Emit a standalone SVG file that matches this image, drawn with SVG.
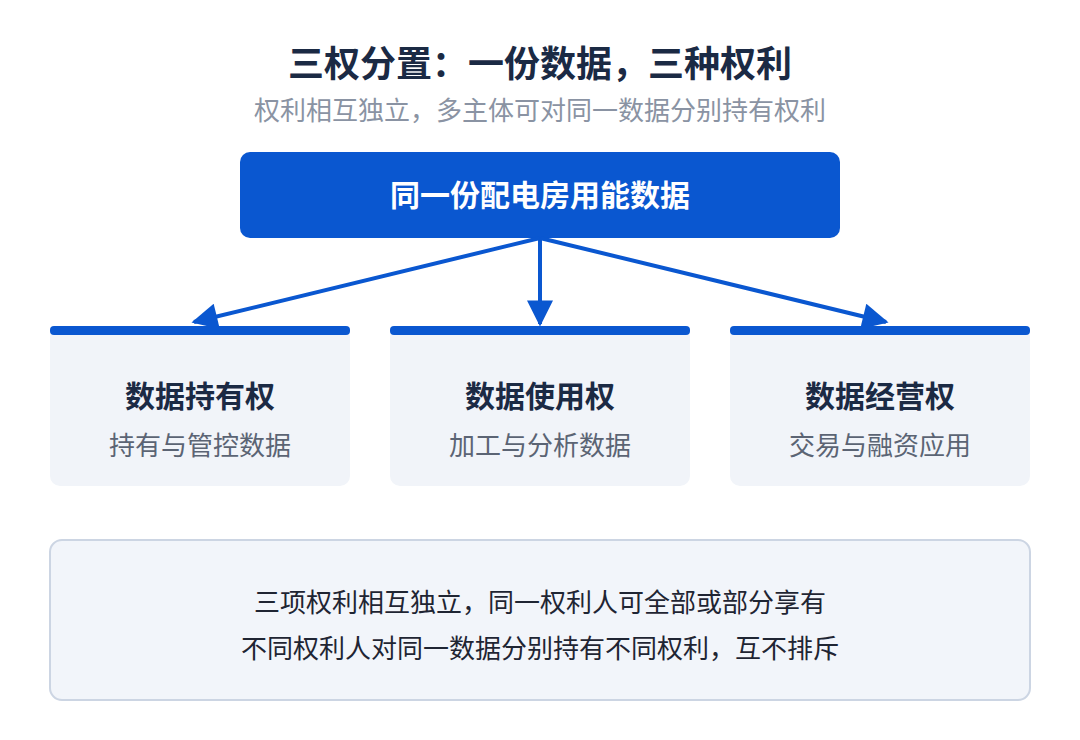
<svg xmlns="http://www.w3.org/2000/svg" width="1080" height="740" viewBox="0 0 1080 740">
<style>
text{font-family:"Noto Sans CJK SC","Noto Sans",sans-serif;text-anchor:middle}
.t{font-size:36px;font-weight:700;fill:#1b2a44}
.s{font-size:26px;fill:#8a93a3}
.h{font-size:30px;font-weight:700;fill:#1b2a44}
.d{font-size:26px;fill:#5b6474}
.b{font-size:26px;fill:#1f2533}
.card{fill:#f1f4f9}
.bar{fill:#0a57d0}
.c{stroke:#0a57d0;stroke-width:4;fill:none}
</style>
<defs><marker id="a" viewBox="0 0 10 10" refX="9" refY="5" markerWidth="7.5" markerHeight="6.5" markerUnits="strokeWidth" orient="auto"><path d="M0,0L10,5L0,10z" fill="#0a57d0"/></marker></defs>
<rect width="1080" height="740" fill="#fff"/>
<text class="t" x="540" y="77">三权分置：一份数据，三种权利</text>
<text class="s" x="540" y="120">权利相互独立，多主体可对同一数据分别持有权利</text>
<g id="root"><rect x="240" y="152" width="600" height="86" rx="10" fill="#0a57d0"/><text x="540" y="206" style="font-size:30px;font-weight:700;fill:#fff">同一份配电房用能数据</text></g>
<g id="connectors">
<path class="c" d="M540,238L194,322" marker-end="url(#a)"/>
<path class="c" d="M540,238L540,324" marker-end="url(#a)"/>
<path class="c" d="M540,238L886,322" marker-end="url(#a)"/>
</g>
<g id="n1"><rect class="card" x="50" y="326" width="300" height="160" rx="10"/><rect class="bar" x="50" y="326" width="300" height="9" rx="4"/><text class="h" x="200" y="407">数据持有权</text><text class="d" x="200" y="455">持有与管控数据</text></g>
<g id="n2"><rect class="card" x="390" y="326" width="300" height="160" rx="10"/><rect class="bar" x="390" y="326" width="300" height="9" rx="4"/><text class="h" x="540" y="407">数据使用权</text><text class="d" x="540" y="455">加工与分析数据</text></g>
<g id="n3"><rect class="card" x="730" y="326" width="300" height="160" rx="10"/><rect class="bar" x="730" y="326" width="300" height="9" rx="4"/><text class="h" x="880" y="407">数据经营权</text><text class="d" x="880" y="455">交易与融资应用</text></g>
<g id="note"><rect x="50" y="540" width="980" height="160" rx="12" fill="#f2f5fa" stroke="#ccd5e3" stroke-width="2"/>
<text class="b" x="540" y="612">三项权利相互独立，同一权利人可全部或部分享有</text>
<text class="b" x="540" y="658">不同权利人对同一数据分别持有不同权利，互不排斥</text></g>
</svg>
